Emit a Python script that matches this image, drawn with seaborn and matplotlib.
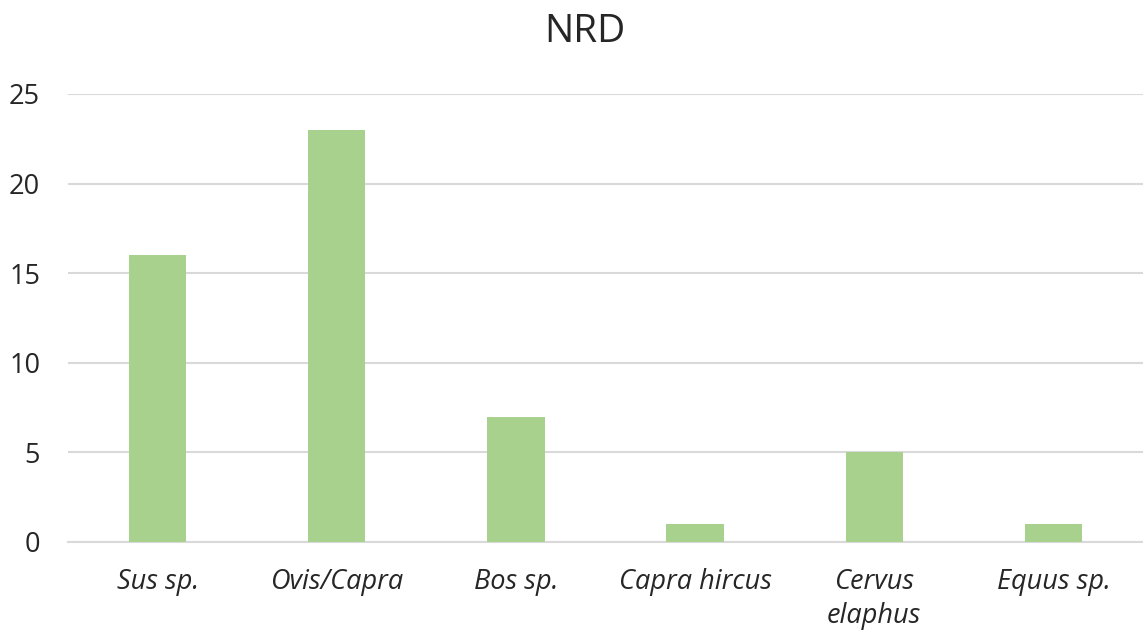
import matplotlib
matplotlib.use("Agg")
import matplotlib.pyplot as plt
import seaborn as sns
import pandas as pd

species = ["Sus sp.", "Ovis/Capra", "Bos sp.", "Capra hircus", "Cervus\nelaphus", "Equus sp."]
nrd = [16, 23, 7, 1, 5, 1]
y_ticks = [0, 5, 10, 15, 20, 25]

sns.set_theme(style="white")
plt.rcParams["font.family"] = ["Open Sans", "DejaVu Sans"]

df = pd.DataFrame({"species": species, "nrd": nrd})

fig = plt.figure(figsize=(11.43, 6.35), dpi=100)
ax = fig.add_axes([0.0595, 0.1465, 0.9405, 0.7055])

sns.barplot(data=df, x="species", y="nrd", color="#A9D18E", width=0.32,
            saturation=1, linewidth=0, ax=ax, zorder=3)

ax.set_ylim(0, 25)
ax.set_yticks(y_ticks)
ax.set_xlim(-0.5, 5.5)
ax.yaxis.grid(True, color="#D9D9D9", linewidth=1.5, zorder=0)
ax.set_axisbelow(True)
for s in ["top", "right", "left"]:
    ax.spines[s].set_visible(False)
ax.spines["bottom"].set_color("#D9D9D9")
ax.spines["bottom"].set_linewidth(1.5)

ax.set_xlabel("")
ax.set_ylabel("")
ax.tick_params(axis="y", length=0, pad=20, labelsize=19.5, labelcolor="#262626")
ax.tick_params(axis="x", length=0, pad=19, labelsize=19.5, labelcolor="#262626")
for lab in ax.get_xticklabels():
    lab.set_fontstyle("italic")
    lab.set_linespacing(1.25)
    lab.set_verticalalignment("top")

fig.text(0.512, 0.95, "NRD", ha="center", va="center", fontsize=28, color="#262626")

fig.savefig("out.png", dpi=100, facecolor="white")
